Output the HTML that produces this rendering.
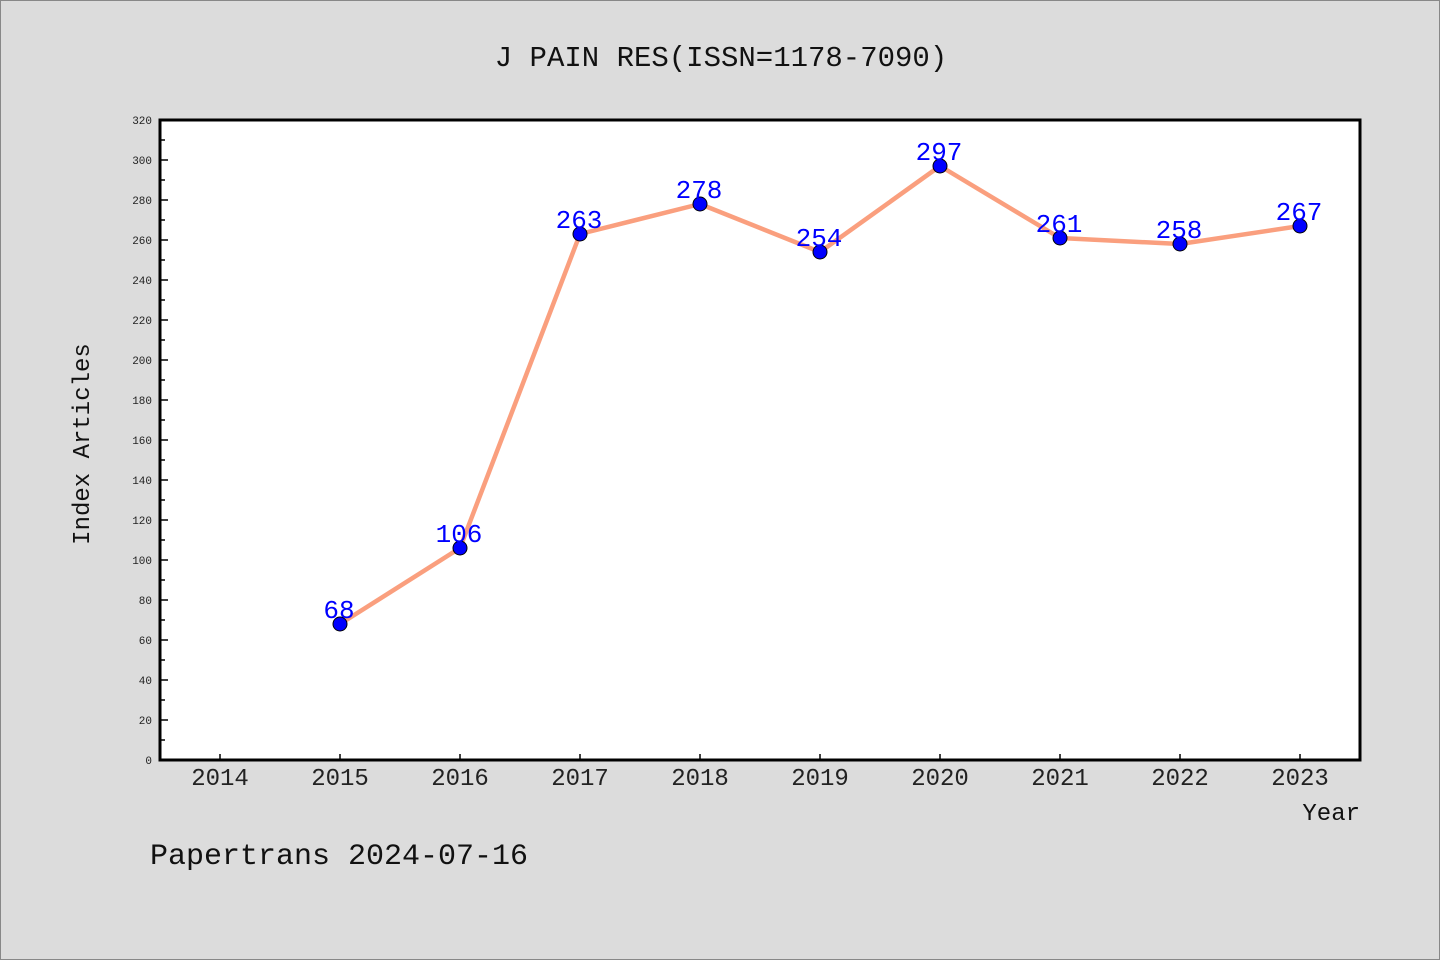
<!DOCTYPE html>
<html><head><meta charset="utf-8"><style>
body{margin:0;background:#dcdcdc;}
svg{display:block;font-family:"Liberation Mono","DejaVu Sans Mono",monospace;}
</style></head><body>
<svg id="c" width="1440" height="960" xmlns="http://www.w3.org/2000/svg">
<rect x="0.5" y="0.5" width="1439" height="959" fill="#dcdcdc" stroke="#888"/>
<text x="721" y="66" text-anchor="middle" font-size="29" fill="#111">J PAIN RES(ISSN=1178-7090)</text>
<rect x="160" y="120" width="1200" height="640" fill="#fff"/>
<g id="yt"></g>
<g id="xt"></g>
<rect x="160" y="120" width="1200" height="640" fill="none" stroke="#000" stroke-width="3"/>
<g id="series"></g>
<text transform="translate(89,444) rotate(-90)" text-anchor="middle" font-size="24" fill="#111">Index Articles</text>
<text x="1360" y="820" text-anchor="end" font-size="24" fill="#111">Year</text>
<text x="150" y="864" font-size="30" fill="#111">Papertrans 2024-07-16</text>
</svg>
<script>
const years=[2015,2016,2017,2018,2019,2020,2021,2022,2023];
const values=[68,106,263,278,254,297,261,258,267];
const xTicks=[2014,2015,2016,2017,2018,2019,2020,2021,2022,2023];
const yTicks=[0,20,40,60,80,100,120,140,160,180,200,220,240,260,280,300,320];
const NS="http://www.w3.org/2000/svg";
const X=v=>220+(v-2014)*120;
const Y=v=>760-v*2;
function mk(tag,attrs,parent,text){const e=document.createElementNS(NS,tag);for(const k in attrs)e.setAttribute(k,attrs[k]);if(text!==undefined)e.textContent=text;parent.appendChild(e);return e;}
const yt=document.getElementById('yt'),xt=document.getElementById('xt'),s=document.getElementById('series');
yTicks.forEach(v=>{
  const l=mk('line',{x1:160,x2:168,y1:Y(v),y2:Y(v),stroke:'#000','stroke-width':1.5},yt);
  
  
  if(v<320){const m=mk('line',{x1:160,x2:165,y1:Y(v+10),y2:Y(v+10),stroke:'#000','stroke-width':1.5},yt);
  
  }
  const t=mk('text',{x:152,y:Y(v)+4,'text-anchor':'end','font-size':11,fill:'#222'},yt,v);
  
  
});
xTicks.forEach(v=>{
  const l=mk('line',{x1:X(v),x2:X(v),y1:760,y2:754,stroke:'#000','stroke-width':1.5},xt);
  
  
  const t=mk('text',{x:X(v),y:785,'text-anchor':'middle','font-size':24,fill:'#222'},xt,v);
  
  
});
const pl=mk('polyline',{points:years.map((y,i)=>X(y)+','+Y(values[i])).join(' '),fill:'none',stroke:'#fa9f7e','stroke-width':4.5,'stroke-linejoin':'round'},s);


years.forEach((y,i)=>{
  const c=mk('circle',{cx:X(y),cy:Y(values[i]),r:7,fill:'#0000ff',stroke:'#000','stroke-width':1},s);
  
  
  const t=mk('text',{x:X(y)-1,y:Y(values[i])-6,'text-anchor':'middle','font-size':26,fill:'#0000ff'},s,values[i]);
  
  
});
</script>
</body></html>
